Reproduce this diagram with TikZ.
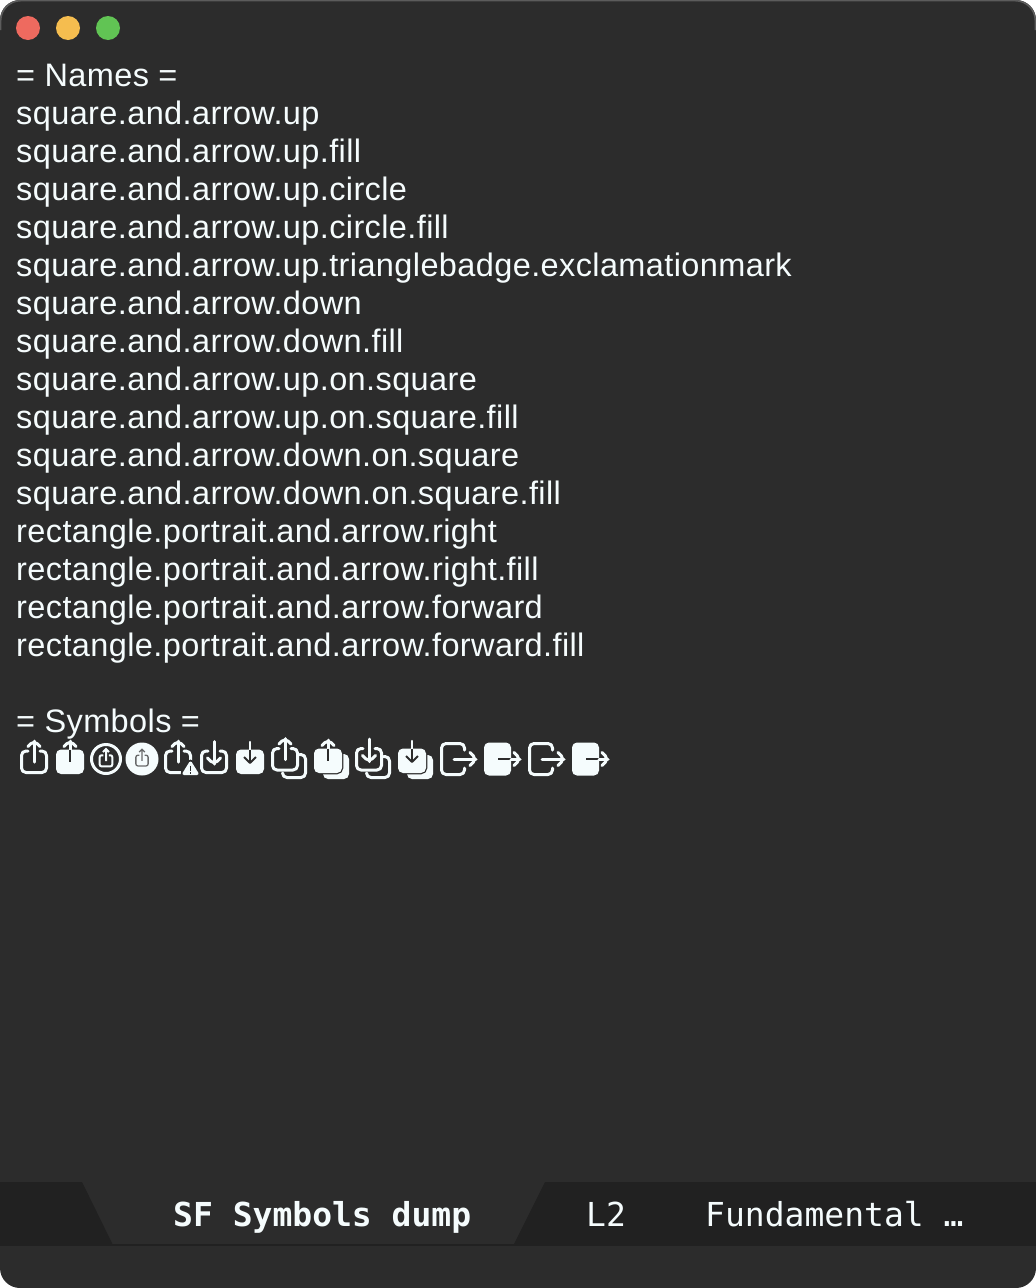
\documentclass[tikz,border=0pt]{standalone}
\usepackage{fontspec}
\setmainfont[LetterSpace=1.2]{Liberation Sans}
\newfontfamily\modefont{DejaVu Sans Mono}
\definecolor{winbg}{HTML}{2C2C2C}
\definecolor{tabbg}{HTML}{212121}
\definecolor{ink}{HTML}{F5FCFD}
\definecolor{edge}{HTML}{5C5C5C}
\tikzset{
  symline/.style={draw=ink,line width=3pt,rounded corners=4.5pt,line cap=round,line join=round},
  symhole/.style={draw=winbg,line width=2.2pt,line cap=butt,line join=round},
  textline/.style={anchor=base west,inner sep=0pt,text=ink,font=\fontsize{32.5}{38}\selectfont},
  modeline/.style={anchor=base west,inner sep=0pt,text=ink,font=\modefont\fontsize{33}{38}\selectfont},
  pics/upline/.style={code={
    \draw[symline] (-6,-23) -- (-12.5,-23) -- (-12.5,-1.5) -- (12.5,-1.5) -- (12.5,-23) -- (6,-23);
    \draw[symline] (0,-12) -- (0,-33);
    \draw[symline] (-6,-27.5) -- (0,-33.5) -- (6,-27.5);
  }},
  pics/upfill/.style={code={
    \fill[ink,rounded corners=5pt] (-14,-24.5) rectangle (14,0);
    \draw[symline] (0,-24) -- (0,-33);
    \draw[symline] (-6,-27.5) -- (0,-33.5) -- (6,-27.5);
    \draw[symhole] (0,-24.5) -- (0,-12);
  }},
  pics/downline/.style={code={
    \draw[symline] (-6,-23) -- (-12.5,-23) -- (-12.5,-1.5) -- (12.5,-1.5) -- (12.5,-23) -- (6,-23);
    \draw[symline] (0,-32.5) -- (0,-10);
    \draw[symline] (-6.5,-16) -- (0,-9.5) -- (6.5,-16);
  }},
  pics/downfill/.style={code={
    \fill[ink,rounded corners=5pt] (-14,-24.5) rectangle (14,0);
    \draw[symline,line width=2.2pt] (0,-32) -- (0,-24);
    \draw[symhole] (0,-24.5) -- (0,-12);
    \draw[symhole,line width=2pt] (-6,-17) -- (0,-11) -- (6,-17);
  }},
  pics/outline/.style={code={
    \draw[symline] (24.5,-9) -- (24.5,-15.5) -- (1.5,-15.5) -- (1.5,15.5) -- (24.5,15.5) -- (24.5,9);
    \draw[symline] (14,0) -- (36,0);
    \draw[symline] (30,-6.5) -- (36.5,0) -- (30,6.5);
  }},
  pics/outfill/.style={code={
    \fill[ink,rounded corners=5pt] (0,-16.5) rectangle (27,16.5);
    \draw[symhole,line width=2.6pt] (14,0) -- (27,0);
    \draw[symline] (27,0) -- (36,0);
    \draw[symline] (30,-6.5) -- (36.5,0) -- (30,6.5);
  }}
}
\begin{document}
\begin{tikzpicture}[x=1pt,y=-1pt]
\useasboundingbox (0,0) rectangle (1036,1288);

% Window
\fill[white] (0,0) rectangle (1036,1288);
\fill[winbg,rounded corners=20pt] (0,0) rectangle (1036,1288);
\draw[edge,line width=1.5pt,rounded corners=20pt] (0.7,30) -- (0.7,0.7) -- (1035.3,0.7) -- (1035.3,30);

% Buttons
\fill[fill={rgb,255:red,238;green,106;blue,95}] (28,28) circle (12);
\fill[fill={rgb,255:red,245;green,189;blue,79}] (68,28) circle (12);
\fill[fill={rgb,255:red,97;green,196;blue,84}] (108,28) circle (12);

% Text
\node[textline] (head) at (16,86) {= Names =};
\foreach \name [count=\i] in {
  square.and.arrow.up,
  square.and.arrow.up.fill,
  square.and.arrow.up.circle,
  square.and.arrow.up.circle.fill,
  square.and.arrow.up.trianglebadge.exclamationmark,
  square.and.arrow.down,
  square.and.arrow.down.fill,
  square.and.arrow.up.on.square,
  square.and.arrow.up.on.square.fill,
  square.and.arrow.down.on.square,
  square.and.arrow.down.on.square.fill,
  rectangle.portrait.and.arrow.right,
  rectangle.portrait.and.arrow.right.fill,
  rectangle.portrait.and.arrow.forward,
  rectangle.portrait.and.arrow.forward.fill}
  \node[textline] (name\i) at (16,86+38*\i) {\name};
\node[textline] (symbols) at (16,732) {= Symbols =};

% Symbols
\pic at (34,774) {upline};
\pic at (70,774) {upfill};

\draw[symline] (106,759) circle (14.5);
\begin{scope}[shift={(106,767)},scale=0.5]
\draw[draw=ink,line width=2pt,rounded corners=2pt] (-5.5,-23.5) -- (-12.75,-23.5) -- (-12.75,-1.25) -- (12.75,-1.25) -- (12.75,-23.5) -- (5.5,-23.5);
\draw[draw=ink,line width=2pt] (0,-12) -- (0,-36) (-6,-30) -- (0,-36) -- (6,-30);
\end{scope}

\fill[ink] (142,759) circle (16.5);
\begin{scope}[shift={(142,766.5)},scale=0.48]
\draw[draw=winbg!70!ink,line width=1.3pt,rounded corners=2pt] (-5.5,-23.5) -- (-12.75,-23.5) -- (-12.75,-1.25) -- (12.75,-1.25) -- (12.75,-23.5) -- (5.5,-23.5);
\draw[draw=winbg!70!ink,line width=1.3pt] (0,-12) -- (0,-36) (-6,-30) -- (0,-36) -- (6,-30);
\end{scope}

\pic at (178,774) {upline};
\draw[winbg,fill=winbg,line width=7pt,line join=round] (190.5,763) -- (197,773) -- (184,773) -- cycle;
\draw[ink,fill=ink,line width=3pt,line join=round] (190.5,763) -- (197,773.5) -- (184,773.5) -- cycle;
\draw[winbg,line width=1.8pt] (190.5,765.5) -- (190.5,770.5) (190.5,771.8) -- (190.5,773.6);

\pic at (214,774) {downline};
\pic at (250,774) {downfill};

% Stacked symbols
\pic at (285,771.5) {upline};
\draw[symline] (282.5,773) -- (282.5,777.5) -- (305.5,777.5) -- (305.5,754.5) -- (299.5,754.5);

\fill[ink,rounded corners=5pt] (323,754) rectangle (349,779);
\fill[ink,draw=winbg,line width=2.5pt,rounded corners=5pt] (313,748) rectangle (342,773);
\pic at (328,773) {upfill};

\pic at (369,771.5) {downline};
\draw[symline] (366.5,773) -- (366.5,777.5) -- (389.5,777.5) -- (389.5,756.5) -- (383.5,756.5);

\fill[ink,rounded corners=5pt] (407,755) rectangle (433,779);
\fill[ink,draw=winbg,line width=2.5pt,rounded corners=5pt] (397,748) rectangle (426,773);
\pic at (412,773) {downfill};

% Rectangles
\pic at (440,759) {outline};
\pic at (484,759) {outfill};
\pic at (528,759) {outline};
\pic at (572,759) {outfill};

% Mode line
\fill[tabbg] (0,1182) -- (82,1182) -- (112.5,1244) -- (0,1244) -- cycle;
\fill[tabbg] (545,1182) -- (1036,1182) -- (1036,1244) -- (514,1244) -- cycle;
\fill[tabbg] (0,1244) rectangle (1036,1246);
\node[modeline,font=\modefont\bfseries\fontsize{33}{38}\selectfont] (buffer) at (173,1226) {SF Symbols dump};
\node[modeline] (line) at (586,1226) {L2};
\node[modeline] (mode) at (705,1226) {Fundamental …};

\end{tikzpicture}
\end{document}
